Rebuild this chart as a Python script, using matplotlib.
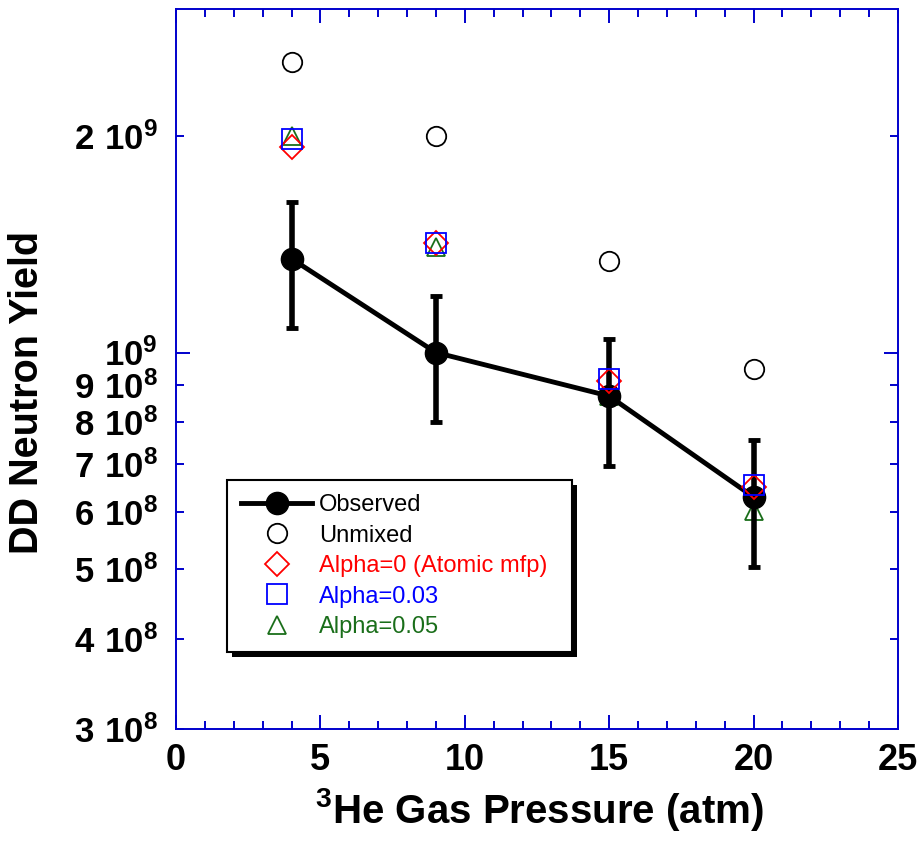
import matplotlib
matplotlib.use("Agg")
import matplotlib.pyplot as plt
from matplotlib.lines import Line2D
from matplotlib.patches import Rectangle

# values
pressure = [4, 9, 15, 20]
observed = [1.35e9, 1.0e9, 8.7e8, 6.3e8]
observed_err = [0.27e9, 0.2e9, 1.74e8, 1.26e8]
unmixed = [2.53e9, 2.0e9, 1.34e9, 9.5e8]
alpha_0 = [1.93e9, 1.42e9, 9.13e8, 6.5e8]
alpha_003 = [1.98e9, 1.42e9, 9.2e8, 6.54e8]
alpha_005 = [2.0e9, 1.40e9, 8.7e8, 6.03e8]

xticks_major = [0, 5, 10, 15, 20, 25]
xticks_minor = list(range(0, 26))
yticks_major = [1e9]
yticks_major_labels = [r'$\mathbf{10^{9}}$']
yticks_minor = [3e8, 4e8, 5e8, 6e8, 7e8, 8e8, 9e8, 2e9]
yticks_minor_labels = [r'$\mathbf{3\ 10^{8}}$', r'$\mathbf{4\ 10^{8}}$',
                       r'$\mathbf{5\ 10^{8}}$', r'$\mathbf{6\ 10^{8}}$',
                       r'$\mathbf{7\ 10^{8}}$', r'$\mathbf{8\ 10^{8}}$',
                       r'$\mathbf{9\ 10^{8}}$', r'$\mathbf{2\ 10^{9}}$']

plt.rcParams['font.family'] = ['Liberation Sans', 'DejaVu Sans']
plt.rcParams['mathtext.fontset'] = 'custom'
plt.rcParams['mathtext.bf'] = 'Liberation Sans:bold'
plt.rcParams['mathtext.rm'] = 'Liberation Sans'

blue = '#0000cc'
green = '#1a6e1a'

fig = plt.figure(figsize=(9.18, 8.51), dpi=100)
ax = fig.add_axes([0.1917, 0.1434, 0.7865, 0.846])

ax.plot(pressure, alpha_005, linestyle='none', marker='^', ms=13, mfc='none',
        mec=green, mew=1.3, zorder=2.5)
ax.errorbar(pressure, observed, yerr=observed_err, fmt='none', ecolor='black',
            elinewidth=4, capsize=4.5, capthick=3.5, zorder=3)
ax.plot(pressure, observed, '-o', color='black', lw=3.5, ms=16, zorder=3.2)
ax.plot(pressure, unmixed, linestyle='none', marker='o', ms=14, mfc='none',
        mec='black', mew=1.3, zorder=3.5)
ax.plot(pressure, alpha_0, linestyle='none', marker='D', ms=12, mfc='none',
        mec='red', mew=1.3, zorder=3.6)
ax.plot(pressure, alpha_003, linestyle='none', marker='s', ms=14, mfc='none',
        mec='#0000ff', mew=1.3, zorder=3.7)

ax.set_yscale('log')
ax.set_xlim(0, 25)
ax.set_ylim(3e8, 3e9)

ax.set_xticks(xticks_major)
ax.set_xticks(xticks_minor, minor=True)
ax.set_yticks(yticks_major, labels=yticks_major_labels)
ax.set_yticks(yticks_minor, labels=yticks_minor_labels, minor=True)

for s in ax.spines.values():
    s.set_color(blue)
    s.set_linewidth(1.4)
ax.tick_params(which='both', direction='in', color=blue, width=1.4,
               top=True, right=True, labelsize=25)
ax.tick_params(axis='x', labelsize=26)
ax.tick_params(which='major', length=10)
ax.tick_params(which='minor', length=6)
ax.tick_params(axis='x', pad=10)
ax.tick_params(axis='y', which='both', pad=13)
for t in ax.get_xticklabels():
    t.set_fontweight('bold')

ax.set_xlabel(r'$\mathbf{^{3}}$He Gas Pressure (atm)', fontsize=29,
              fontweight='bold', va='center')
ax.xaxis.set_label_coords(0.504, -0.1125)
ax.set_ylabel('DD Neutron Yield', fontsize=28.5, fontweight='bold', va='center')
ax.yaxis.set_label_coords(-0.2064, 0.468)

handles = [
    Line2D([], [], color='black', lw=3.5, marker='o', ms=16),
    Line2D([], [], linestyle='none', marker='o', ms=14, mfc='none', mec='black', mew=1.3),
    Line2D([], [], linestyle='none', marker='D', ms=12, mfc='none', mec='red', mew=1.3),
    Line2D([], [], linestyle='none', marker='s', ms=14, mfc='none', mec='#0000ff', mew=1.3),
    Line2D([], [], linestyle='none', marker='^', ms=13, mfc='none', mec=green, mew=1.3),
]
labels = ['Observed', 'Unmixed', 'Alpha=0 (Atomic mfp)', 'Alpha=0.03', 'Alpha=0.05']
leg = ax.legend(handles, labels, loc='upper left',
                bbox_to_anchor=(0.0706, 0.1097, 0.4774, 0.2361), mode='expand',
                fontsize=17, handlelength=3.0, handletextpad=0.3, labelspacing=0.36,
                borderpad=0.6, borderaxespad=0, fancybox=False, framealpha=1,
                edgecolor='black', numpoints=1,
                labelcolor=['black', 'black', 'red', '#0000ff', green])
leg.get_frame().set_linewidth(1.5)

# black drop shadow behind the legend box
fig.canvas.draw()
bb = leg.get_frame().get_window_extent()
inv = ax.transAxes.inverted()
x0, y0 = inv.transform((bb.x0 + 5, bb.y0 - 5))
x1, y1 = inv.transform((bb.x1 + 5, bb.y1 - 5))
ax.add_patch(Rectangle((x0, y0), x1 - x0, y1 - y0, transform=ax.transAxes,
                       facecolor='black', edgecolor='none', clip_on=False,
                       zorder=leg.get_zorder() - 0.1))

fig.savefig('out.png', dpi=100)
